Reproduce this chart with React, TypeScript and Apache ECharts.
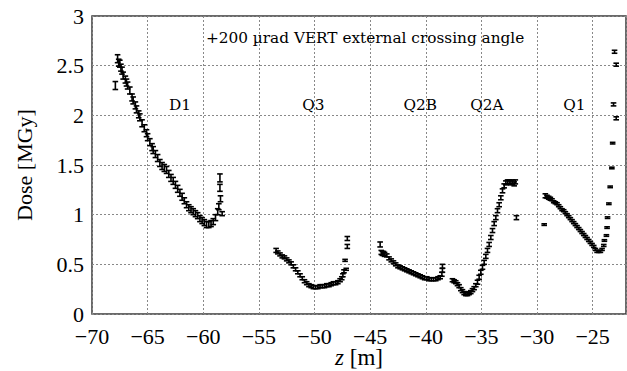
import React, { useEffect, useRef } from "react";
import * as echarts from "echarts";

// [z (m), dose (MGy), error (MGy)]
const d1Points: number[][] = [
  [-67.9, 2.30, 0.04], [-67.7, 2.57, 0.04], [-67.6, 2.53, 0.035], [-67.5, 2.52, 0.035], [-67.4, 2.48, 0.035],
  [-67.3, 2.45, 0.035], [-67.2, 2.40, 0.035], [-67.0, 2.36, 0.035], [-66.9, 2.33, 0.035], [-66.8, 2.30, 0.035],
  [-66.6, 2.25, 0.035], [-66.4, 2.18, 0.035], [-66.3, 2.15, 0.035], [-66.1, 2.10, 0.035], [-66.0, 2.06, 0.035],
  [-65.8, 2.01, 0.035], [-65.7, 1.98, 0.035], [-65.5, 1.92, 0.035], [-65.3, 1.87, 0.035], [-65.1, 1.82, 0.035],
  [-65.0, 1.78, 0.035], [-64.8, 1.73, 0.035], [-64.6, 1.68, 0.035], [-64.5, 1.65, 0.035], [-64.3, 1.61, 0.035],
  [-64.1, 1.57, 0.035], [-63.9, 1.52, 0.035], [-63.7, 1.49, 0.035], [-63.5, 1.47, 0.035], [-63.3, 1.45, 0.035],
  [-63.1, 1.41, 0.035], [-62.9, 1.37, 0.035], [-62.7, 1.34, 0.035], [-62.5, 1.30, 0.035], [-62.3, 1.26, 0.035],
  [-62.1, 1.22, 0.035], [-61.9, 1.18, 0.035], [-61.7, 1.14, 0.03], [-61.5, 1.10, 0.03], [-61.3, 1.07, 0.03],
  [-61.1, 1.05, 0.03], [-60.9, 1.03, 0.03], [-60.7, 1.01, 0.03], [-60.5, 0.99, 0.03], [-60.3, 0.96, 0.03],
  [-60.1, 0.94, 0.03], [-59.9, 0.92, 0.03], [-59.7, 0.90, 0.03], [-59.5, 0.90, 0.03], [-59.3, 0.91, 0.03],
  [-59.1, 0.93, 0.03], [-58.9, 0.97, 0.03], [-58.7, 1.03, 0.03], [-58.6, 1.08, 0.03],
  [-58.5, 1.37, 0.04], [-58.5, 1.27, 0.035], [-58.45, 1.16, 0.03], [-58.3, 1.01, 0.02],
];

const q3Points: number[][] = [
  [-53.45, 0.64, 0.02], [-53.3, 0.62, 0.015], [-53.1, 0.60, 0.015], [-52.9, 0.58, 0.015], [-52.7, 0.57, 0.015],
  [-52.5, 0.55, 0.015], [-52.3, 0.53, 0.015], [-52.1, 0.51, 0.015], [-51.9, 0.48, 0.015], [-51.7, 0.45, 0.015],
  [-51.5, 0.42, 0.015], [-51.3, 0.39, 0.015], [-51.1, 0.36, 0.015], [-50.9, 0.33, 0.015], [-50.7, 0.31, 0.015],
  [-50.5, 0.29, 0.015], [-50.3, 0.28, 0.015], [-50.1, 0.27, 0.015], [-49.9, 0.27, 0.015], [-49.7, 0.27, 0.015],
  [-49.5, 0.28, 0.015], [-49.3, 0.28, 0.015], [-49.1, 0.28, 0.015], [-48.9, 0.29, 0.015], [-48.7, 0.29, 0.015],
  [-48.5, 0.30, 0.015], [-48.3, 0.31, 0.015], [-48.1, 0.31, 0.015], [-47.9, 0.32, 0.015], [-47.7, 0.34, 0.015],
  [-47.55, 0.36, 0.015], [-47.45, 0.39, 0.015], [-47.35, 0.43, 0.015],
  [-47.25, 0.54, 0.01], [-47.15, 0.45, 0.01], [-47.05, 0.68, 0.02], [-47.05, 0.76, 0.02],
];

const q2bPoints: number[][] = [
  [-44.1, 0.70, 0.025], [-44.0, 0.62, 0.02], [-43.9, 0.61, 0.02], [-43.8, 0.61, 0.02], [-43.7, 0.60, 0.02],
  [-43.5, 0.59, 0.015], [-43.3, 0.56, 0.015], [-43.1, 0.54, 0.015], [-42.9, 0.52, 0.015], [-42.7, 0.50, 0.015],
  [-42.5, 0.48, 0.015], [-42.3, 0.47, 0.015], [-42.1, 0.46, 0.015], [-41.9, 0.45, 0.015], [-41.7, 0.44, 0.015],
  [-41.5, 0.43, 0.015], [-41.3, 0.42, 0.015], [-41.1, 0.41, 0.015], [-40.9, 0.40, 0.015], [-40.7, 0.39, 0.015],
  [-40.5, 0.38, 0.015], [-40.3, 0.37, 0.015], [-40.1, 0.36, 0.015], [-39.9, 0.36, 0.015], [-39.7, 0.35, 0.015],
  [-39.5, 0.35, 0.015], [-39.3, 0.35, 0.015], [-39.1, 0.35, 0.015], [-38.9, 0.36, 0.015], [-38.7, 0.37, 0.015],
  [-38.55, 0.40, 0.02], [-38.5, 0.44, 0.02], [-38.5, 0.48, 0.02],
];

const q2aPoints: number[][] = [
  [-37.6, 0.34, 0.015], [-37.45, 0.33, 0.015], [-37.3, 0.32, 0.015], [-37.15, 0.30, 0.015], [-37.0, 0.28, 0.015],
  [-36.85, 0.25, 0.015], [-36.7, 0.23, 0.015], [-36.55, 0.21, 0.015], [-36.4, 0.20, 0.015], [-36.25, 0.20, 0.015],
  [-36.1, 0.21, 0.015], [-35.95, 0.22, 0.015], [-35.8, 0.24, 0.015], [-35.65, 0.26, 0.015], [-35.5, 0.29, 0.015],
  [-35.35, 0.32, 0.02], [-35.2, 0.37, 0.02], [-35.05, 0.42, 0.02], [-34.9, 0.47, 0.02], [-34.75, 0.52, 0.02],
  [-34.6, 0.58, 0.02], [-34.45, 0.64, 0.02], [-34.3, 0.70, 0.02], [-34.15, 0.77, 0.02], [-34.0, 0.84, 0.02],
  [-33.85, 0.91, 0.02], [-33.7, 0.97, 0.02], [-33.55, 1.04, 0.02], [-33.4, 1.10, 0.02], [-33.25, 1.17, 0.02],
  [-33.1, 1.24, 0.02], [-32.95, 1.29, 0.02], [-32.8, 1.32, 0.02], [-32.65, 1.33, 0.02], [-32.5, 1.33, 0.02],
  [-32.35, 1.32, 0.02], [-32.2, 1.33, 0.02], [-32.05, 1.31, 0.02], [-31.95, 1.33, 0.02],
  [-31.85, 0.97, 0.02],
];

const q1Points: number[][] = [
  [-29.35, 0.90, 0.008], [-29.25, 1.19, 0.02], [-29.1, 1.18, 0.015], [-28.95, 1.17, 0.015], [-28.8, 1.16, 0.015],
  [-28.65, 1.15, 0.01], [-28.5, 1.13, 0.01], [-28.35, 1.12, 0.01], [-28.2, 1.11, 0.01], [-28.05, 1.09, 0.01],
  [-27.9, 1.07, 0.01], [-27.75, 1.05, 0.01], [-27.6, 1.04, 0.01], [-27.45, 1.02, 0.01], [-27.3, 1.00, 0.01],
  [-27.15, 0.98, 0.01], [-27.0, 0.96, 0.01], [-26.85, 0.94, 0.01], [-26.7, 0.92, 0.01], [-26.55, 0.90, 0.01],
  [-26.4, 0.88, 0.01], [-26.25, 0.86, 0.01], [-26.1, 0.84, 0.01], [-25.95, 0.82, 0.01], [-25.8, 0.80, 0.01],
  [-25.65, 0.78, 0.01], [-25.5, 0.76, 0.01], [-25.35, 0.74, 0.01], [-25.2, 0.72, 0.01], [-25.05, 0.70, 0.01],
  [-24.9, 0.68, 0.01], [-24.75, 0.65, 0.01], [-24.6, 0.63, 0.01], [-24.45, 0.63, 0.01], [-24.3, 0.63, 0.01],
  [-24.15, 0.65, 0.01], [-24.0, 0.69, 0.01],
  [-23.94, 0.74, 0.008], [-23.76, 0.79, 0.008], [-23.7, 0.87, 0.008], [-23.66, 0.97, 0.008], [-23.54, 1.11, 0.008],
  [-23.42, 1.28, 0.008], [-23.27, 1.47, 0.008], [-23.2, 1.72, 0.008], [-22.88, 1.97, 0.015], [-23.12, 2.11, 0.015],
  [-22.88, 2.51, 0.015], [-23.03, 2.64, 0.015],
];

const regionLabels: [number, number, string][] = [
  [-62.1, 2.1, "D1"],
  [-50.1, 2.1, "Q3"],
  [-40.5, 2.1, "Q2B"],
  [-34.5, 2.1, "Q2A"],
  [-26.65, 2.1, "Q1"],
];

const titleText = "+200 \u00b5rad VERT external crossing angle";
const titlePos: [number, number] = [-45.45, 2.78];

const xTicks = { min: -70, max: -22, interval: 5 };
const yTicks = { min: 0, max: 3, interval: 0.5 };

const SERIF = "DejaVu Serif";
const TIMES = "Liberation Serif";

function fmtMinus(v: number): string {
  if (v === -22) return "";
  return v < 0 ? "\u2212" + Math.abs(v) : String(v);
}

export default function App() {
  const ref = useRef<HTMLDivElement>(null);
  useEffect(() => {
    document.body.style.margin = "0";
    if (!ref.current) return;
    const chart = echarts.init(ref.current, undefined, { renderer: "svg" });
    const allPoints = [...d1Points, ...q3Points, ...q2bPoints, ...q2aPoints, ...q1Points];

    const renderItem = (params: any, api: any) => {
      const z = api.value(0);
      const d = api.value(1);
      const e = api.value(2);
      const top = api.coord([z, d + e]);
      const bot = api.coord([z, d - e]);
      const hw = 2.8;
      const style = { stroke: "#000", lineWidth: 1.6 };
      return {
        type: "group",
        children: [
          { type: "line", shape: { x1: top[0], y1: top[1], x2: bot[0], y2: bot[1] }, style },
          { type: "line", shape: { x1: top[0] - hw, y1: top[1], x2: top[0] + hw, y2: top[1] }, style },
          { type: "line", shape: { x1: bot[0] - hw, y1: bot[1], x2: bot[0] + hw, y2: bot[1] }, style },
        ],
      };
    };

    const labelSeries = (data: any[]) => ({
      type: "scatter",
      symbolSize: 0,
      itemStyle: { opacity: 1 },
      data,
      label: {
        show: true,
        position: "inside",
        formatter: (p: any) => p.name,
        fontFamily: SERIF,
        fontSize: 15.3,
        color: "#000",
        opacity: 1,
      },
      silent: true,
      z: 6,
    });

    chart.setOption({
      animation: false,
      grid: {
        left: 92,
        right: 1,
        top: 16,
        bottom: 57,
        outerBoundsMode: "none",
        containLabel: false,
        show: true,
        borderColor: "#3a3a3a",
        borderWidth: 1.5,
        backgroundColor: "transparent",
      },
      xAxis: {
        type: "value",
        min: xTicks.min,
        max: xTicks.max,
        interval: xTicks.interval,
        name: "{i|z} [m]",
        nameLocation: "middle",
        nameGap: 33,
        nameMoveOverlap: false,
        nameTextStyle: {
          fontFamily: TIMES,
          fontSize: 23,
          lineHeight: 20,
          color: "#000",
          rich: { i: { fontFamily: TIMES, fontStyle: "italic", fontSize: 23, lineHeight: 20, color: "#000" } },
        },
        axisLine: { show: false },
        axisTick: { show: false },
        axisLabel: { fontFamily: TIMES, fontSize: 22, lineHeight: 16, color: "#000", margin: 14.5, formatter: fmtMinus },
        splitLine: { show: true, lineStyle: { type: [2, 2], color: "#888", width: 1 } },
      },
      yAxis: {
        type: "value",
        min: yTicks.min,
        max: yTicks.max,
        interval: yTicks.interval,
        name: "Dose [MGy]",
        nameLocation: "middle",
        nameGap: 57,
        nameTextStyle: { fontFamily: TIMES, fontSize: 22, color: "#000" },
        axisLine: { show: false },
        axisTick: { show: false },
        axisLabel: { fontFamily: TIMES, fontSize: 22, lineHeight: 14, color: "#000", margin: 8 },
        splitLine: { show: true, lineStyle: { type: [2, 2], color: "#888", width: 1 } },
      },
      series: [
        {
          type: "custom",
          renderItem,
          data: allPoints,
          encode: { x: 0, y: 1 },
          z: 5,
        },
        labelSeries(regionLabels.map((r) => ({ value: [r[0], r[1]], name: r[2] }))),
        labelSeries([{ value: titlePos, name: titleText }]),
      ],
    });
    return () => chart.dispose();
  }, []);
  return <div ref={ref} style={{ width: 627, height: 371 }} />;
}
